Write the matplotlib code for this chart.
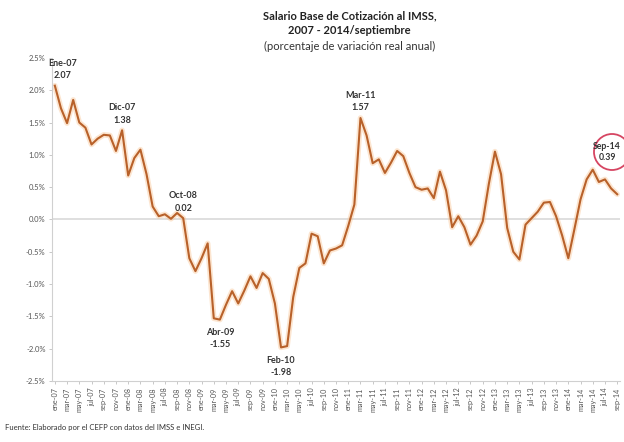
import numpy as np
import matplotlib
matplotlib.use('Agg')
import matplotlib.pyplot as plt
from matplotlib.patches import Ellipse

plt.rcParams['font.family'] = ['Lato', 'DejaVu Sans']

# variacion real anual del SBC, ene-07 a sep-14 (mensual)
valores = [2.07, 1.72, 1.49, 1.85, 1.50, 1.42, 1.16, 1.25, 1.31, 1.30, 1.06, 1.38,
           0.68, 0.95, 1.08, 0.70, 0.20, 0.05, 0.08, 0.01, 0.10, 0.02, -0.60, -0.80,
           -0.60, -0.37, -1.53, -1.55, -1.32, -1.11, -1.30, -1.10, -0.88, -1.06, -0.83, -0.92,
           -1.30, -1.98, -1.96, -1.20, -0.75, -0.68, -0.22, -0.26, -0.68, -0.48, -0.45, -0.40,
           -0.10, 0.23, 1.57, 1.30, 0.87, 0.93, 0.72, 0.88, 1.06, 0.98, 0.72, 0.50,
           0.46, 0.48, 0.33, 0.74, 0.45, -0.12, 0.05, -0.12, -0.39, -0.25, -0.03, 0.55,
           1.05, 0.70, -0.13, -0.50, -0.62, -0.08, 0.02, 0.12, 0.26, 0.27, 0.05, -0.25,
           -0.60, -0.15, 0.31, 0.62, 0.77, 0.58, 0.62, 0.48, 0.39]
meses = ['ene', 'feb', 'mar', 'abr', 'may', 'jun', 'jul', 'ago', 'sep', 'oct', 'nov', 'dic']
etiquetas = ['%s-%02d' % (meses[i % 12], 7 + i // 12) for i in range(len(valores))]

# puntos destacados: (indice, etiqueta, arriba/abajo)
notas = [(0, 'Ene-07', 1), (11, 'Dic-07', 1), (21, 'Oct-08', 1), (27, 'Abr-09', -1),
         (37, 'Feb-10', -1), (50, 'Mar-11', 1)]
ultimo = (92, 'Sep-14')

fig = plt.figure(figsize=(6.24, 4.42), dpi=100)
ax = fig.add_axes([0.083, 0.138, 0.911, 0.731])

x = np.arange(len(valores))
ax.plot(x, valores, color='#F9C08A', lw=4.0, alpha=0.4, solid_capstyle='round', zorder=2)
ax.plot(x, valores, color='#B8612A', lw=1.5, zorder=3)
ax.axhline(0, color='#D9D9D9', lw=1.2, zorder=1)

ax.set_xlim(-0.5, len(valores) - 0.5)
ax.set_ylim(-2.5, 2.5)
yt = np.arange(-2.5, 2.51, 0.5)
ax.set_yticks(yt)
ax.set_yticklabels(['%.1f%%' % v for v in yt], fontsize=5.5, color='#555555')
ax.set_xticks(x[::2])
ax.set_xticklabels(etiquetas[::2], rotation=90, fontsize=5.2, color='#555555')
ax.tick_params(axis='both', length=2.5, width=0.6, color='#BFBFBF', pad=2)

for s in ['top', 'right']:
    ax.spines[s].set_visible(False)
for s in ['left', 'bottom']:
    ax.spines[s].set_color('#D0D0D0')
    ax.spines[s].set_linewidth(0.8)

for i, nombre, lado in notas:
    v = valores[i]
    xi = i + 0.8 if i == 0 else i
    if lado > 0:
        ax.annotate('%s\n%.2f' % (nombre, v), (xi, v), xytext=(2 if i == 0 else 0, 4),
                    textcoords='offset points', ha='center', va='bottom',
                    fontsize=6.5, fontweight='bold', color='#333333', linespacing=1.5,
                    annotation_clip=False)
    else:
        ax.annotate('%s\n%.2f' % (nombre, v), (xi, v), xytext=(0, -6),
                    textcoords='offset points', ha='center', va='top',
                    fontsize=6.5, fontweight='bold', color='#333333', linespacing=1.5)

# ultimo dato, dentro del circulo rojo
fig.text(621 / 624, 1 - 152 / 442, '%s\n%.2f' % (ultimo[1], valores[ultimo[0]]),
         ha='right', va='center', fontsize=6.3, fontweight='bold', color='#333333',
         linespacing=1.4, multialignment='center')
circ = Ellipse((612 / 624, 1 - 152 / 442), 36 / 624, 36 / 442, transform=fig.transFigure,
               fill=False, edgecolor='#D64562', lw=1.3, clip_on=False)
fig.patches.append(circ)

fig.text(0.56, 0.965, 'Salario Base de Cotización al IMSS,', ha='center', va='center',
         fontsize=8, fontweight='bold', color='#222222')
fig.text(0.56, 0.93, '2007 - 2014/septiembre', ha='center', va='center',
         fontsize=8, fontweight='bold', color='#222222')
fig.text(0.56, 0.895, '(porcentaje de variación real anual)', ha='center', va='center',
         fontsize=8, color='#333333')
fig.text(0.008, 0.032, 'Fuente: Elaborado por el CEFP con datos del IMSS e INEGI.',
         ha='left', va='center', fontsize=5.5, color='#333333')

fig.savefig('out.png', dpi=100, facecolor='white')
